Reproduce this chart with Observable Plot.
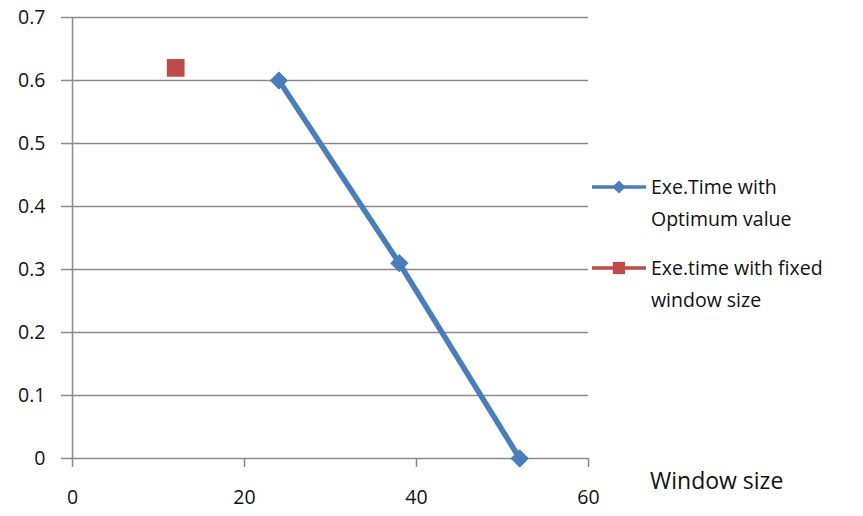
<!DOCTYPE html>
<html>
<head>
<meta charset="utf-8">
<script src="https://cdn.jsdelivr.net/npm/d3@7"></script>
<script src="https://cdn.jsdelivr.net/npm/@observablehq/plot@0.6"></script>
<style>
  html, body { margin: 0; padding: 0; background: #fff; }
  #chart svg { display: block; }
</style>
</head>
<body>
<div id="chart"></div>
<script>
// Execution time vs. window size
const optimumWindow = [24, 38, 52];
const optimumTime = [0.6, 0.31, 0];
const fixedWindow = [12];
const fixedTime = [0.62];
const xTicks = [0, 20, 40, 60];
const yTicks = [0, 0.1, 0.2, 0.3, 0.4, 0.5, 0.6, 0.7];
const seriesNames = ["Exe.Time with\nOptimum value", "Exe.time with fixed\nwindow size"];
const xLabel = "Window size";

const blue = "#4a7ebb";
const red = "#be4b48";
const grid = "#8a8a8a";
const font = "'Open Sans', 'Noto Sans', sans-serif";

const optimum = optimumWindow.map((w, i) => ({w, t: optimumTime[i]}));
const fixed = fixedWindow.map((w, i) => ({w, t: fixedTime[i]}));

const W = 863, H = 516;
const chart = Plot.plot({
  width: W,
  height: H,
  marginLeft: 72,
  marginRight: 275,
  marginTop: 17,
  marginBottom: 58,
  style: {fontFamily: font, fontSize: "19px", color: "#000", background: "#fff"},
  x: {domain: [0, 60], ticks: xTicks, label: null},
  y: {domain: [0, 0.7], ticks: yTicks, label: null},
  marks: [
    Plot.ruleY(yTicks, {x1: -1.28, x2: 60, stroke: grid, strokeWidth: 1.5, clip: false}),
    Plot.ruleX([0], {stroke: grid, strokeWidth: 1.5}),
    Plot.axisX({ticks: xTicks, tickSize: 9, tickPadding: 23, stroke: grid, strokeWidth: 1.5,
      tickFormat: d => d, fontSize: 19.5, fill: "#111"}),
    Plot.axisY({ticks: yTicks, tickSize: 0, tickPadding: 27, fontSize: 19.5, fill: "#111",
      tickFormat: d => d === 0 ? "0" : d3.format(".1f")(d)}),
    Plot.line(optimum, {x: "w", y: "t", stroke: blue, strokeWidth: 5.5}),
    Plot.dot(optimum, {x: "w", y: "t", symbol: "diamond2", r: 7.8, fill: blue, stroke: blue, strokeWidth: 1}),
    Plot.dot(fixed, {x: "w", y: "t", symbol: "square", r: 10, fill: red})
  ]
});
document.getElementById("chart").appendChild(chart);

// Legend and axis title drawn into the same SVG
const svg = d3.select(chart);
const legend = [
  {name: seriesNames[0], color: blue, symbol: d3.symbolDiamond2, size: 110, y: 187},
  {name: seriesNames[1], color: red, symbol: d3.symbolSquare, size: 150, y: 268}
];
const lg = svg.append("g").attr("font-family", font).attr("font-size", 19.5)
  .attr("text-anchor", "start");
legend.forEach(d => {
  lg.append("line").attr("x1", 592).attr("x2", 646).attr("y1", d.y).attr("y2", d.y)
    .attr("stroke", d.color).attr("stroke-width", 3.5);
  lg.append("path").attr("d", d3.symbol(d.symbol, d.size)())
    .attr("transform", `translate(619,${d.y})`).attr("fill", d.color);
  d.name.split("\n").forEach((line, i) => {
    lg.append("text").attr("x", 651).attr("y", d.y + i * 32).attr("dy", "0.35em")
      .attr("fill", "#111").text(line);
  });
});
svg.append("text").attr("x", 650).attr("y", 481).attr("dy", "0.35em")
  .attr("text-anchor", "start")
  .attr("font-family", font).attr("font-size", 23).attr("fill", "#111")
  .text(xLabel);
</script>
</body>
</html>
